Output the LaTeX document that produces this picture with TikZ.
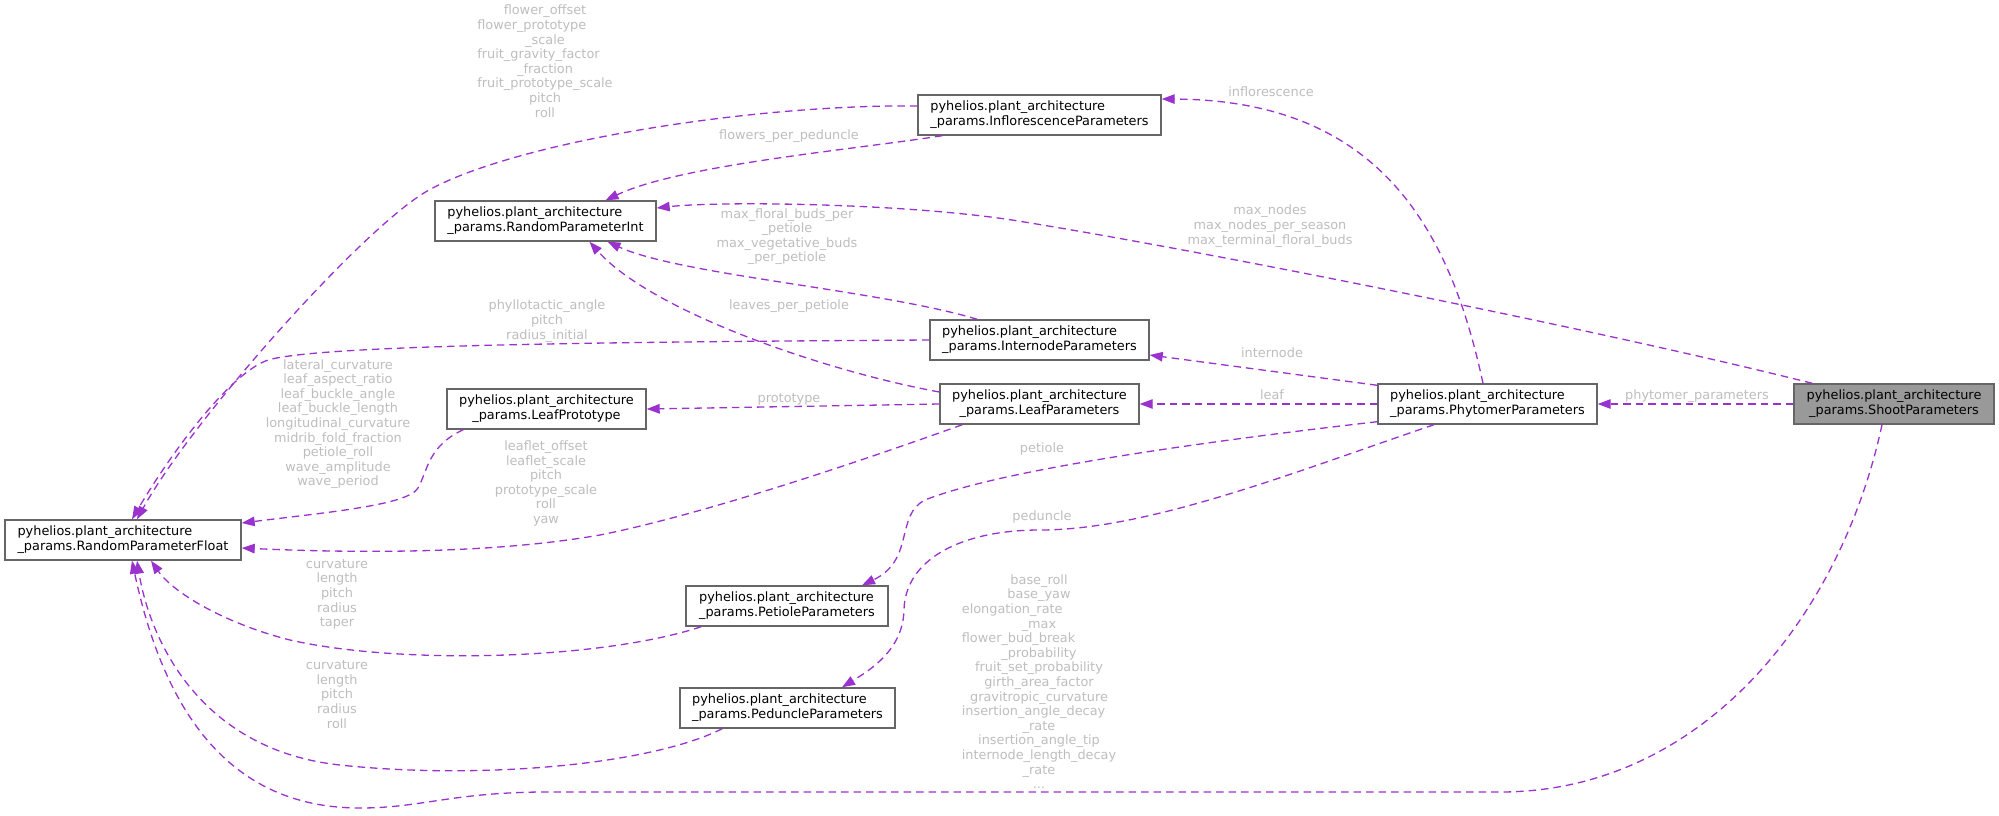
\documentclass[tikz,border=0pt]{standalone}
\usepackage{fontspec}
\setmainfont{DejaVu Sans}
\usetikzlibrary{arrows.meta,calc}
\definecolor{edgec}{HTML}{9A32CD}
\definecolor{lblc}{HTML}{BEBEBE}
\definecolor{boxc}{HTML}{666666}
\definecolor{mainfill}{HTML}{999999}
\newcommand{\Lft}[1]{\multicolumn{1}{@{}l@{}}{#1}}
\newcommand{\clsname}[1]{\begin{tabular}{@{}c@{}}\Lft{pyhelios.plant\_architecture}\\\_params.#1\end{tabular}}
\newcommand{\lbllines}[1]{\begin{tabular}{@{}c@{}}#1\end{tabular}}
\tikzset{
  cls/.style={draw=boxc, line width=1.4pt, fill=white, inner sep=0pt, minimum height=40pt,
    font=\fontsize{12.86}{14.6}\selectfont},
  mainc/.style={cls, fill=mainfill},
  uses/.style={draw=edgec, line width=1.3pt, dash pattern=on 7.5pt off 5pt,
    -{Triangle[length=13pt,width=9.5pt,fill=edgec]}},
  lbl/.style={text=lblc, inner sep=0pt, font=\fontsize{12.86}{14.6}\selectfont},
}
\begin{document}
\begin{tikzpicture}[x=1pt,y=-1pt]
\fill[white] (0,0) rectangle (1999,815);
\useasboundingbox (0,0) rectangle (1999,815);

% nodes
\node[cls, minimum width=243pt] (infl) at (1039.5,115) {\clsname{InflorescenceParameters}};
\node[cls, minimum width=221pt] (rint) at (545.5,221) {\clsname{RandomParameterInt}};
\node[cls, minimum width=236pt] (rflt) at (123,540) {\clsname{RandomParameterFloat}};
\node[cls, minimum width=199pt] (lproto) at (546.5,409) {\clsname{LeafPrototype}};
\node[cls, minimum width=219pt] (intn) at (1039.5,340) {\clsname{InternodeParameters}};
\node[cls, minimum width=199pt] (leaf) at (1039.5,404) {\clsname{LeafParameters}};
\node[cls, minimum width=219pt] (phyt) at (1487.5,404) {\clsname{PhytomerParameters}};
\node[mainc, minimum width=200pt] (shoot) at (1894,404) {\clsname{ShootParameters}};
\node[cls, minimum width=202pt] (pet) at (787,606) {\clsname{PetioleParameters}};
\node[cls, minimum width=215pt] (ped) at (787.5,708) {\clsname{PeduncleParameters}};

% edges
\draw[uses] ($(infl.west)+(0,-9)$) .. controls (760,104) and (520,140) .. (429,190)
  .. controls (365,225) and (191,421) .. ($(rflt.north)+(14,0)$);
\draw[uses] ($(infl.south west)+(25,0)$) .. controls (850,150) and (680,165) .. ($(rint.north)+(60,0)$);
\draw[uses] ($(shoot.north west)+(19,0)$) .. controls (1600,330) and (1200,250) .. (1012,220)
  .. controls (900,203) and (720,201) .. ($(rint.east)+(0,-13)$);
\draw[uses] ($(intn.north west)+(48,0)$) .. controls (880,290) and (680,275) .. ($(rint.south)+(62,0)$);
\draw[uses] ($(leaf.west)+(0,-12)$) .. controls (820,370) and (650,310) .. ($(rint.south)+(44,0)$);
\draw[uses] (intn.west) .. controls (600,342) and (320,345) .. (268,360)
  .. controls (228,374) and (168,458) .. ($(rflt.north)+(9,0)$);
\draw[uses] ($(lproto.south west)+(17,0)$) .. controls (428,446) and (428,470) .. (418,488)
  .. controls (408,505) and (330,512) .. ($(rflt.east)+(0,-17)$);
\draw[uses] ($(leaf.south west)+(23,0)$) .. controls (850,465) and (700,515) .. (600,535)
  .. controls (480,556) and (330,552) .. ($(rflt.east)+(0,8)$);
\draw[uses] (leaf.west) -- (lproto.east);
\draw[uses] ($(pet.south west)+(16,0)$) .. controls (600,660) and (400,665) .. (290,640)
  .. controls (230,625) and (175,595) .. ($(rflt.south)+(28,0)$);
\draw[uses] ($(ped.south west)+(43,0)$) .. controls (650,765) and (480,780) .. (340,765)
  .. controls (200,750) and (150,640) .. ($(rflt.south)+(14,0)$);
\draw[uses] ($(shoot.south)+(-12,0)$) .. controls (1840,620) and (1700,792) .. (1500,792)
  -- (540,792) .. controls (450,793) and (420,808) .. (360,808)
  .. controls (250,808) and (170,740) .. ($(rflt.south)+(9,0)$);
\draw[uses] ($(phyt.north)+(-4.5,0)$) .. controls (1450,230) and (1380,100) .. ($(infl.east)+(0,-16)$);
\draw[uses] ($(phyt.north west)+(0,2)$) -- ($(intn.east)+(0,15)$);
\draw[uses] (phyt.west) -- (leaf.east);
\draw[uses] ($(phyt.south west)+(0,-3)$) .. controls (1200,442) and (1000,470) .. (925,500)
  .. controls (895,515) and (915,560) .. ($(pet.north)+(75,0)$);
\draw[uses] ($(phyt.south)+(-53.5,0)$) .. controls (1300,470) and (1150,530) .. (1040,530)
  .. controls (960,530) and (905,560) .. (904,610)
  .. controls (903,650) and (870,670) .. ($(ped.north)+(54.5,0)$);
\draw[uses] (shoot.west) -- (phyt.east);

% edge labels
\node[lbl] (lA) at (545,63) {\lbllines{flower\_offset\\\Lft{flower\_prototype}\\\_scale\\\Lft{fruit\_gravity\_factor}\\\_fraction\\fruit\_prototype\_scale\\pitch\\roll}};
\node[lbl] (lB) at (789,136) {flowers\_per\_peduncle};
\node[lbl] (lC) at (1271,92) {inflorescence};
\node[lbl] (lD) at (1270,226.5) {\lbllines{max\_nodes\\max\_nodes\_per\_season\\max\_terminal\_floral\_buds}};
\node[lbl] (lE) at (787,237) {\lbllines{max\_floral\_buds\_per\\\_petiole\\max\_vegetative\_buds\\\_per\_petiole}};
\node[lbl] (lF) at (789,306) {leaves\_per\_petiole};
\node[lbl] (lG) at (547,321.5) {\lbllines{phyllotactic\_angle\\pitch\\radius\_initial}};
\node[lbl] (lH) at (338,424.5) {\lbllines{lateral\_curvature\\leaf\_aspect\_ratio\\leaf\_buckle\_angle\\leaf\_buckle\_length\\longitudinal\_curvature\\midrib\_fold\_fraction\\petiole\_roll\\wave\_amplitude\\wave\_period}};
\node[lbl] (lI) at (546,484) {\lbllines{leaflet\_offset\\leaflet\_scale\\pitch\\prototype\_scale\\roll\\yaw}};
\node[lbl] (lJ) at (789,399) {prototype};
\node[lbl] (lK) at (1272,353) {internode};
\node[lbl] (lL) at (1272,395) {leaf};
\node[lbl] (lM) at (1042,449) {petiole};
\node[lbl] (lN) at (1042,517) {peduncle};
\node[lbl] (lO) at (1697,396) {phytomer\_parameters};
\node[lbl] (lP) at (337,594.5) {\lbllines{curvature\\length\\pitch\\radius\\taper}};
\node[lbl] (lQ) at (337,696) {\lbllines{curvature\\length\\pitch\\radius\\roll}};
\node[lbl] (lR) at (1039,683.5) {\lbllines{base\_roll\\base\_yaw\\\Lft{elongation\_rate}\\\_max\\\Lft{flower\_bud\_break}\\\_probability\\fruit\_set\_probability\\girth\_area\_factor\\gravitropic\_curvature\\\Lft{insertion\_angle\_decay}\\\_rate\\insertion\_angle\_tip\\\Lft{internode\_length\_decay}\\\_rate\\...}};
\end{tikzpicture}
\end{document}
